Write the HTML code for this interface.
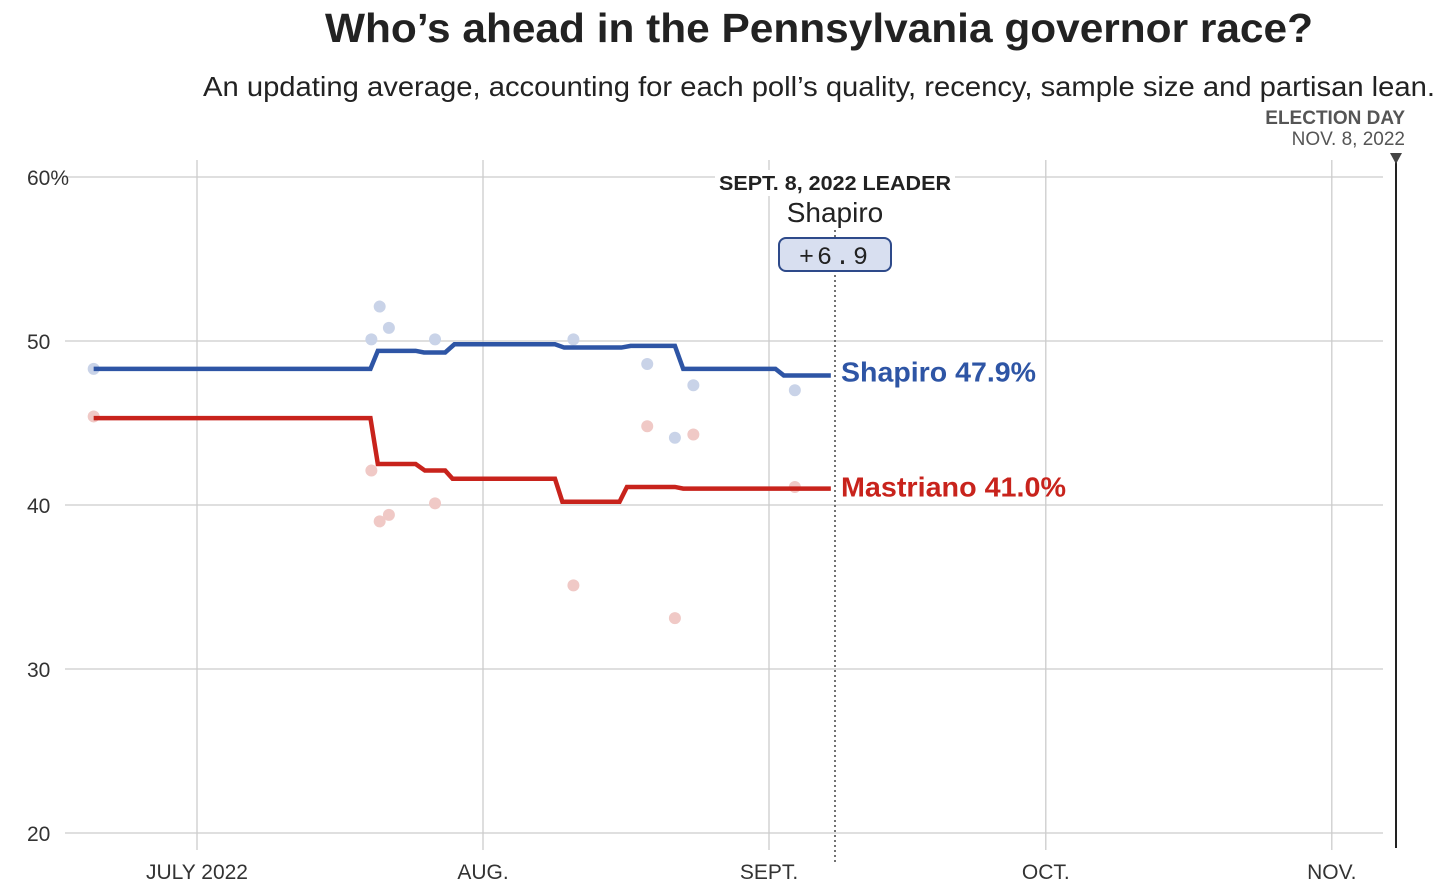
<!DOCTYPE html>
<html><head><meta charset="utf-8"><style>
body{margin:0;background:#fff;width:1456px;height:895px;overflow:hidden;font-family:"Liberation Sans",sans-serif}
svg{display:block}
</style></head><body>
<svg id="chart" width="1456" height="895">
<text x="325" y="42" textLength="988" lengthAdjust="spacingAndGlyphs" font-size="41" font-weight="bold" fill="#222">Who’s ahead in the Pennsylvania governor race?</text>
<text x="203" y="96" textLength="1232" lengthAdjust="spacingAndGlyphs" font-size="28" fill="#222">An updating average, accounting for each poll’s quality, recency, sample size and partisan lean.</text>
<g id="grid"></g><g id="dots"></g><g id="lines"></g><g id="ann"></g>
</svg>
<script>
const yTicks=[60,50,40,30,20];
const yTickLabels=["60%","50","40","30","20"];
const monthDays=[0,31,62,92,123];
const monthLabels=["JULY 2022","AUG.","SEPT.","OCT.","NOV."];
const pollDays=[-11.2,18.9,19.8,20.8,25.8,40.8,48.8,51.8,53.8,64.8];
const shapiroPolls=[48.3,50.1,52.1,50.8,50.1,50.1,48.6,44.1,47.3,47.0];
const mastrianoPolls=[45.4,42.1,39.0,39.4,40.1,35.1,44.8,33.1,44.3,41.1];
const shapiroDays=[-11.2,18.8,19.6,23.7,24.6,26.9,27.9,38.8,39.8,46.0,47.0,51.8,52.7,62.7,63.6,68.7];
const shapiroAvg=[48.3,48.3,49.4,49.4,49.3,49.3,49.8,49.8,49.6,49.6,49.7,49.7,48.3,48.3,47.9,47.9];
const mastrianoDays=[-11.2,18.8,19.6,23.7,24.7,26.9,27.7,38.8,39.6,45.8,46.6,51.8,52.7,68.7];
const mastrianoAvg=[45.3,45.3,42.5,42.5,42.1,42.1,41.6,41.6,40.2,40.2,41.1,41.1,41.0,41.0];
const X=d=>197+d*9.226, Y=v=>177+(60-v)*16.4;
const NS="http://www.w3.org/2000/svg";
function mk(p,tag,a,txt){const e=document.createElementNS(NS,tag);for(const k in a)e.setAttribute(k,a[k]);if(txt!=null)e.textContent=txt;p.appendChild(e);return e;}
const grid=document.getElementById('grid'),dots=document.getElementById('dots'),lines=document.getElementById('lines');
yTicks.forEach((t,i)=>{
 const l=mk(grid,'line',{x1:65,x2:1383,y1:Y(t),y2:Y(t),stroke:'#ccc','stroke-width':1.3});
 
 
 const tx=mk(grid,'text',{x:27,y:Y(t)+8,'font-size':21,fill:'#333','font-family':'"Liberation Sans Narrow","Liberation Sans",sans-serif'},yTickLabels[i]);
 
 
});
monthDays.forEach((d,i)=>{
 const l=mk(grid,'line',{x1:X(d),x2:X(d),y1:160,y2:850,stroke:'#ccc','stroke-width':1.3});
 
 
 const tx=mk(grid,'text',{x:X(d),y:879,'text-anchor':'middle','font-size':21,fill:'#333','font-family':'"Liberation Sans Narrow","Liberation Sans",sans-serif'},monthLabels[i]);
 
 
});
pollDays.forEach((d,i)=>{
 const a=mk(dots,'circle',{cx:X(d),cy:Y(shapiroPolls[i]),r:6,fill:'#c9d3e8'});
 
 
 const b=mk(dots,'circle',{cx:X(d),cy:Y(mastrianoPolls[i]),r:6,fill:'#f0c9c6'});
 
 
});
const sp=mk(lines,'polyline',{points:shapiroDays.map((d,i)=>X(d)+','+Y(shapiroAvg[i])).join(' '),fill:'none',stroke:'#2e55a5','stroke-width':4.5});


const mp=mk(lines,'polyline',{points:mastrianoDays.map((d,i)=>X(d)+','+Y(mastrianoAvg[i])).join(' '),fill:'none',stroke:'#c8231c','stroke-width':4.5});


const sl=mk(lines,'text',{x:841,y:Y(shapiroAvg[shapiroAvg.length-1])+6,'font-size':28,'font-weight':'bold',fill:'#2e55a5',textLength:195,lengthAdjust:'spacingAndGlyphs'},'Shapiro '+shapiroAvg[shapiroAvg.length-1].toFixed(1)+'%');


const ml=mk(lines,'text',{x:841,y:Y(mastrianoAvg[mastrianoAvg.length-1])+8,'font-size':28,'font-weight':'bold',fill:'#c8231c',textLength:225,lengthAdjust:'spacingAndGlyphs'},'Mastriano '+mastrianoAvg[mastrianoAvg.length-1].toFixed(1)+'%');


</script>
<svg width="1456" height="895" style="position:absolute;left:0;top:0">
<line x1="835" y1="200" x2="835" y2="865" stroke="#444" stroke-width="1.5" stroke-dasharray="2,3"/>
<rect x="715" y="170" width="240" height="26" fill="#fff"/>
<text x="835" y="190" text-anchor="middle" font-size="20" font-weight="bold" fill="#222" textLength="232" lengthAdjust="spacingAndGlyphs">SEPT. 8, 2022 LEADER</text>
<rect x="786" y="200" width="98" height="30" fill="#fff"/>
<text x="835" y="222" text-anchor="middle" font-size="28" fill="#222">Shapiro</text>
<rect x="779" y="238" width="112" height="33" rx="7" fill="#d8dff0" stroke="#2e4a8a" stroke-width="2"/>
<text x="835" y="264" text-anchor="middle" font-size="25" fill="#222" letter-spacing="3" font-family="Liberation Mono,monospace">+6.9</text>
<line x1="1396" y1="160" x2="1396" y2="848" stroke="#222" stroke-width="2"/>
<polygon points="1390,153 1402,153 1396,164" fill="#444"/>
<text x="1405" y="124" text-anchor="end" font-size="19" font-weight="bold" fill="#555">ELECTION DAY</text>
<text x="1405" y="145" text-anchor="end" font-size="19" fill="#555">NOV. 8, 2022</text>
</svg>
</body></html>
